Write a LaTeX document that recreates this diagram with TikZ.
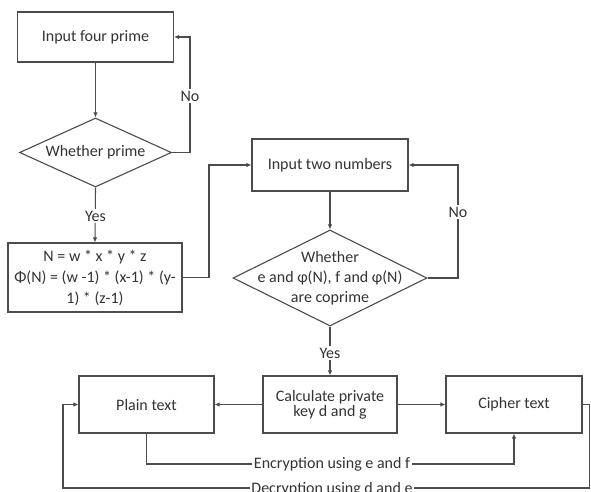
\documentclass[tikz,border=0pt]{standalone}
\usepackage{fontspec}
\setmainfont{Carlito}
\usetikzlibrary{shapes.geometric,arrows.meta}
\begin{document}
\begin{tikzpicture}[x=1pt,y=-1pt,
  every node/.style={font=\fontsize{16}{21}\selectfont, text=black!80},
  box/.style={draw=black!70, line width=1.1pt, rectangle, inner sep=0pt, align=center},
  dec/.style={draw=black!70, line width=1.1pt, diamond, inner sep=0pt, aspect=2.2},
  conn/.style={draw=black!70, line width=1.1pt},
  arr/.style={conn, -{Latex[length=5pt,width=4.5pt]}},
  lbl/.style={fill=white, inner sep=1.5pt}
]
\fill[white] (0,0) rectangle (591,491);
\useasboundingbox (0,0) rectangle (591,491);

% left column: prime input and check
\node[box, minimum width=156pt, minimum height=50pt] (b1) at (95.5,37) {Input four prime};
\node[dec, minimum width=152pt, minimum height=69pt] (d1) at (95.5,152.5) {Whether prime};
\node[box, minimum width=174pt, minimum height=69pt, font=\fontsize{16}{21}\selectfont] (b2) at (95,277.5)
  {N = w * x * y * z\\Φ(N) = (w -1) * (x-1) * (y-\\1) * (z-1)};

% middle column: choosing e and f
\node[box, minimum width=156pt, minimum height=52pt] (b3) at (330,165) {Input two numbers};
\node[dec, minimum width=194pt, minimum height=96pt] (d2) at (330,278) {};
\node[align=center, font=\fontsize{16}{20}\selectfont] (d2t) at (d2.center)
  {Whether\\e and φ(N), f and φ(N)\\are coprime};

% bottom row
\node[box, minimum width=134pt, minimum height=57pt, font=\fontsize{16}{15}\selectfont] (calc) at (330,404.5)
  {Calculate private\\key d and g};
\node[box, minimum width=135pt, minimum height=57pt] (plain) at (146.5,404.5) {Plain text};
\node[box, minimum width=136pt, minimum height=57pt] (cipher) at (514,404.5) {Cipher text};

% helper points for the loops
\coordinate (n1) at (190,152.5);
\coordinate (n1t) at (190,37);
\coordinate (j1) at (209,277.5);
\coordinate (j1t) at (209,165);
\coordinate (n2) at (458,278);
\coordinate (n2t) at (458,165);
\coordinate (e1) at (146.5,464);
\coordinate (e2) at (514,464);
\coordinate (r1) at (589.5,404.5);
\coordinate (r2) at (589.5,488);
\coordinate (l2) at (63,488);
\coordinate (l1) at (63,404.5);

% connectors
\draw[arr] (b1) -- (d1);
\draw[arr] (d1.east) -- (n1) -- (n1t) -- (b1.east);
\node[lbl] at (190,96) {No};
\draw[arr] (d1.south) -- (b2.north);
\node[lbl] at (95.5,216) {Yes};
\draw[arr] (b2.east) -- (j1) -- (j1t) -- (b3.west);

\draw[arr] (b3.south) -- (d2.north);
\draw[arr] (d2.east) -- (n2) -- (n2t) -- (b3.east);
\node[lbl] at (458,212) {No};
\draw[arr] (d2.south) -- (calc.north);
\node[lbl] at (330,353) {Yes};

\draw[arr] (calc.west) -- (plain.east);
\draw[arr] (calc.east) -- (cipher.west);

\draw[arr] (plain.south) -- (e1) -- (e2) -- (cipher.south);
\node[lbl] at (332,464) {Encryption using e and f};
\draw[arr] (cipher.east) -- (r1) -- (r2) -- (l2) -- (l1) -- (plain.west);
\node[lbl] at (332,489) {Decryption using d and e};
\end{tikzpicture}
\end{document}
